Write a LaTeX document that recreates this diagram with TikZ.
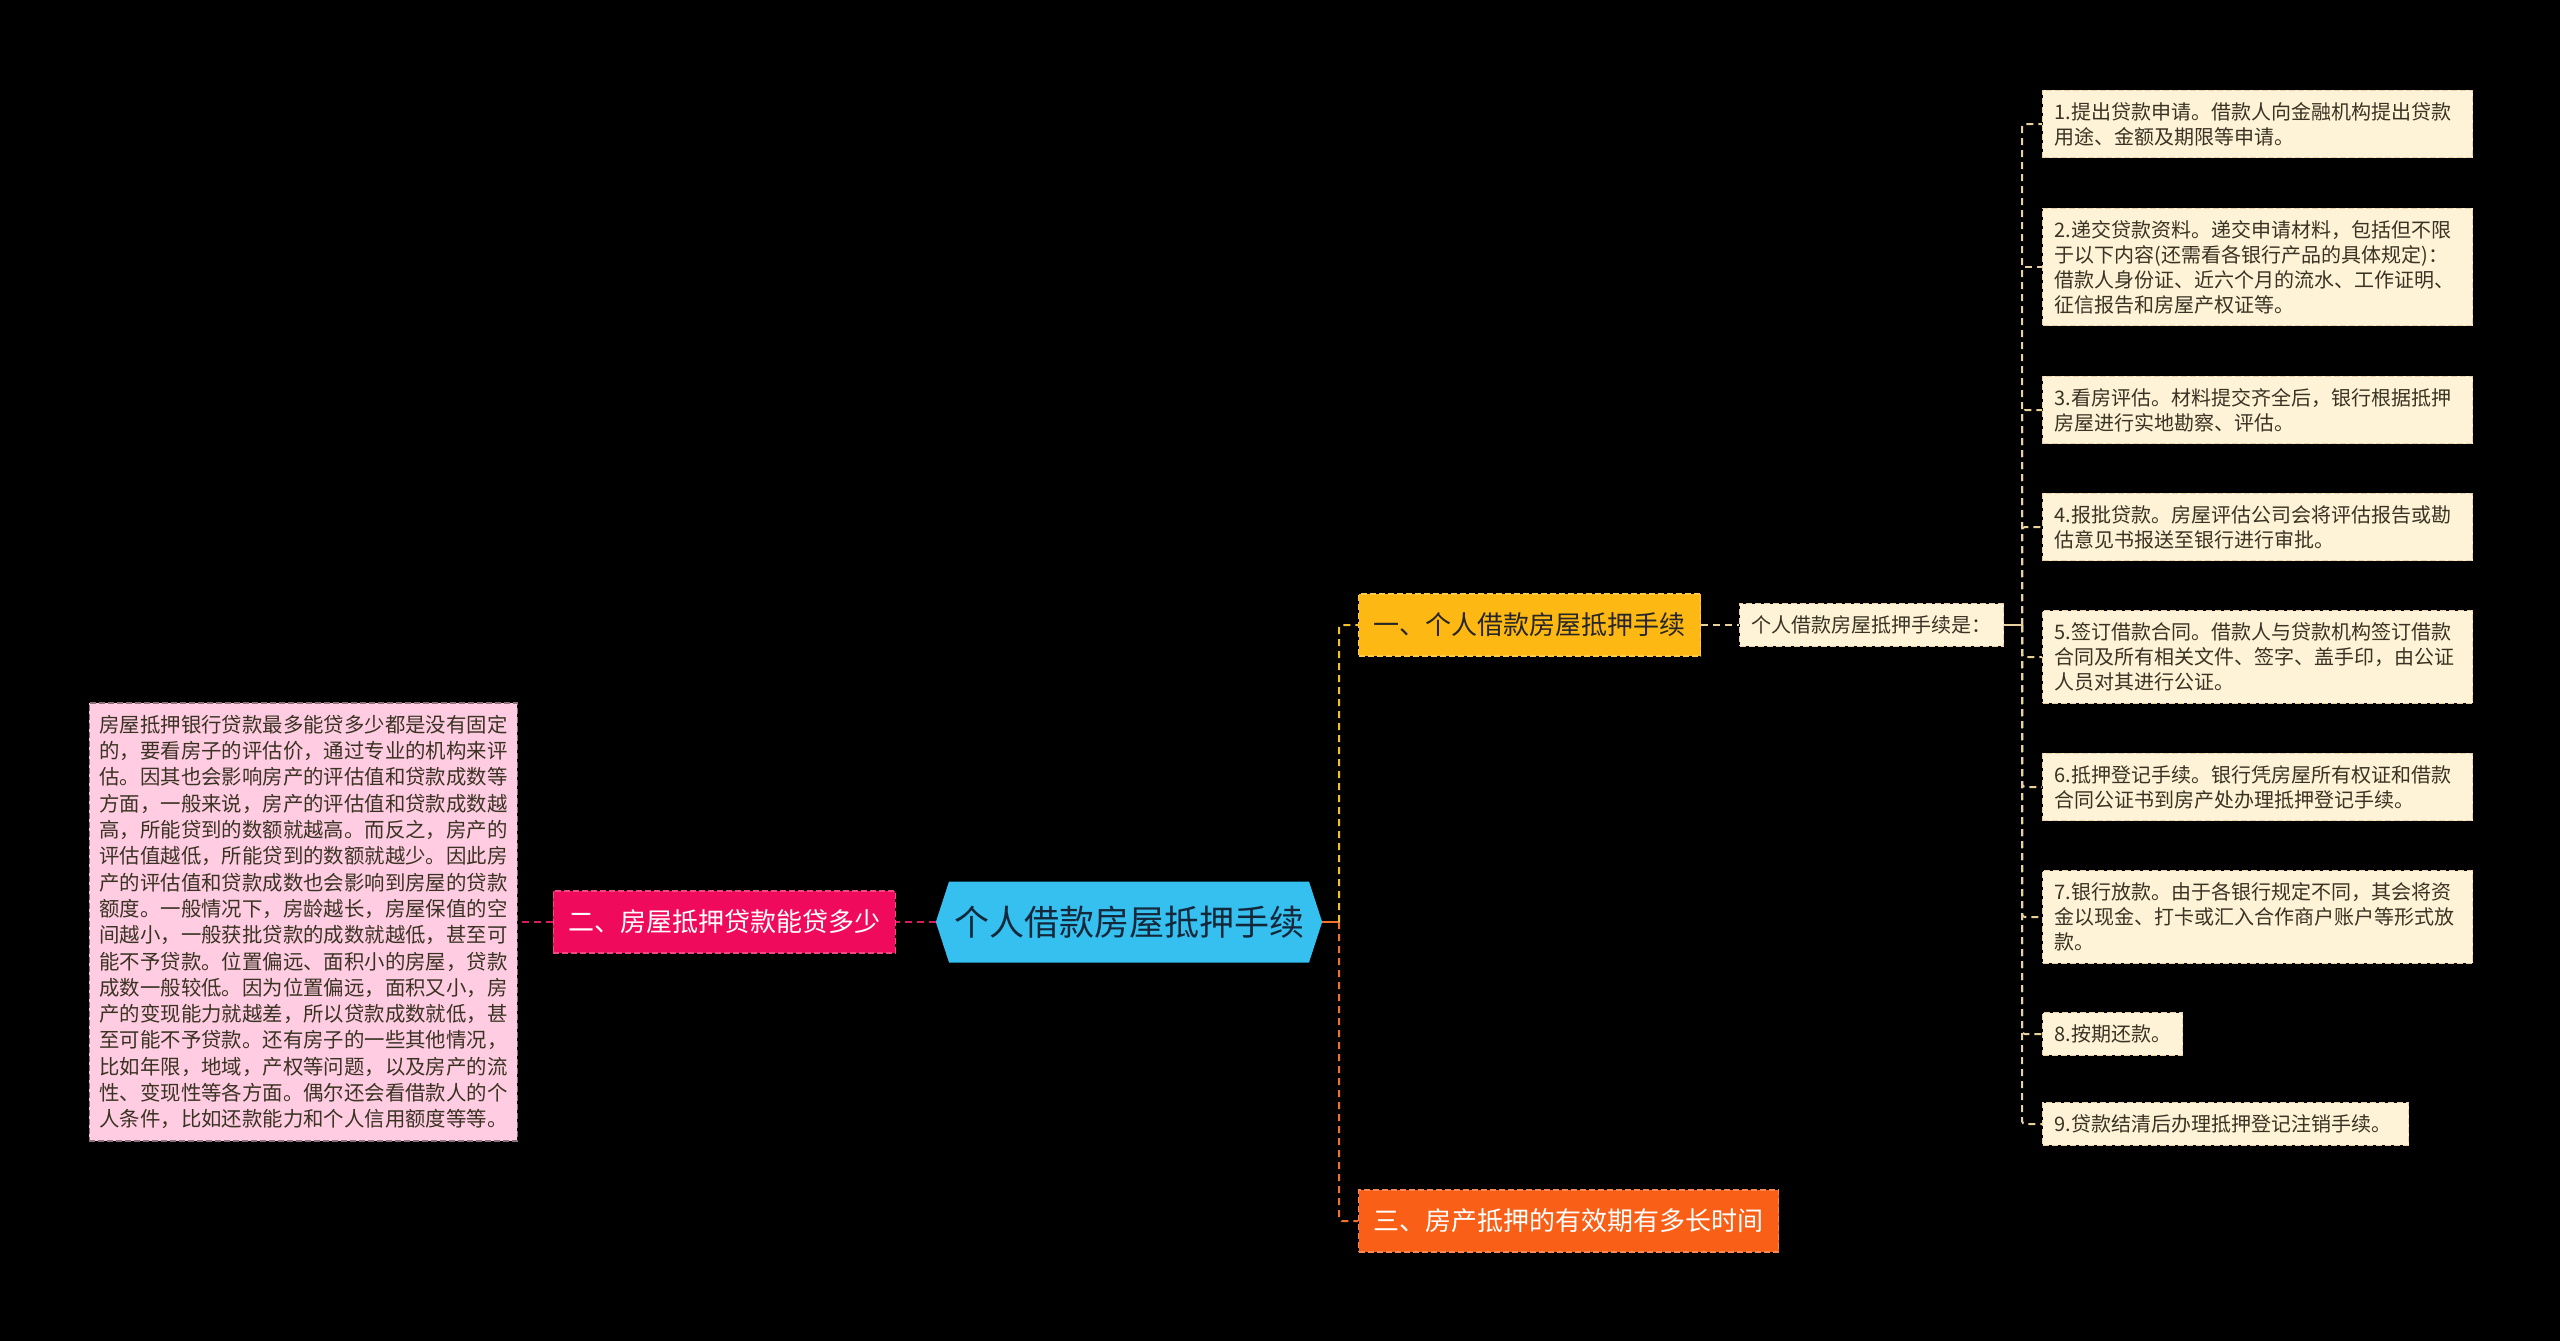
\documentclass[tikz,border=0pt]{standalone}
\usepackage{fontspec}
\setmainfont{Noto Sans CJK SC}
\usepackage{tikz}
\usetikzlibrary{shapes,shapes.symbols,arrows.meta,positioning,calc}
\definecolor{mmRoot}{HTML}{35C0F0}
\definecolor{mmRootText}{HTML}{13283A}
\definecolor{mmMagenta}{HTML}{F00A5C}
\definecolor{mmPink}{HTML}{FFCCE1}
\definecolor{mmAmber}{HTML}{FDB813}
\definecolor{mmOrange}{HTML}{FA5F17}
\definecolor{mmCream}{HTML}{FEF3D6}
\definecolor{mmInk}{HTML}{3A3324}
\definecolor{lkMagenta}{HTML}{D81B60}
\definecolor{lkAmber}{HTML}{F2C12E}
\definecolor{lkOrange}{HTML}{F0722E}
\definecolor{lkCream}{HTML}{E6D29A}
\tikzset{
    mmBoxBase/.style={
        rectangle,
        draw,
        dash pattern=on 6pt off 3pt,
        line width=1.2pt,
        inner xsep=12pt,
        inner ysep=12pt,
        align=left
    },
    % Root and branches
    rootHex/.style={
        signal, signal to=west and east, signal pointer angle=144,
        fill=mmRoot, draw=none, text=mmRootText,
        minimum height=81pt, inner xsep=5pt,
        font=\fontsize{35pt}{40pt}\selectfont
    },
    branchBox/.style={
        mmBoxBase, fill=#1, draw=#1!75!white,
        inner xsep=15pt, minimum height=62pt,
        font=\fontsize{26pt}{30pt}\selectfont
    },
    % Leaves
    noteBox/.style={mmBoxBase, fill=mmCream, draw=mmCream!70!brown, text=mmInk,
        font=\fontsize{20pt}{25pt}\selectfont},
    pinkBox/.style={mmBoxBase, fill=mmPink, draw=mmPink!55!black, text=mmInk,
        inner xsep=10pt, font=\fontsize{20.4pt}{26.3pt}\selectfont},
    % Links
    lkBase/.style={line width=2pt, dash pattern=on 7pt off 5pt, rounded corners=3pt}
}
\begin{document}
\begin{tikzpicture}[x=1pt, y=-1pt,
    lk/.style={lkBase, draw=#1}
]
\fill[black] (0,0) rectangle (2560,1341);
\useasboundingbox (0,0) rectangle (2560,1341);

% Root
\node[rootHex] (root) at (1129,922) {个人借款房屋抵押手续};

% Left branch
\node[branchBox=mmMagenta, text=white, anchor=east] (b2) at (896,922) {二、房屋抵押贷款能贷多少};
\node[pinkBox, anchor=east] (b2n) at (518,922) {房屋抵押银行贷款最多能贷多少都是没有固定\\
的，要看房子的评估价，通过专业的机构来评\\
估。因其也会影响房产的评估值和贷款成数等\\
方面，一般来说，房产的评估值和贷款成数越\\
高，所能贷到的数额就越高。而反之，房产的\\
评估值越低，所能贷到的数额就越少。因此房\\
产的评估值和贷款成数也会影响到房屋的贷款\\
额度。一般情况下，房龄越长，房屋保值的空\\
间越小，一般获批贷款的成数就越低，甚至可\\
能不予贷款。位置偏远、面积小的房屋，贷款\\
成数一般较低。因为位置偏远，面积又小，房\\
产的变现能力就越差，所以贷款成数就低，甚\\
至可能不予贷款。还有房子的一些其他情况，\\
比如年限，地域，产权等问题，以及房产的流\\
性、变现性等各方面。偶尔还会看借款人的个\\
人条件，比如还款能力和个人信用额度等等。};

% Right branches
\node[branchBox=mmAmber, text=black!85, anchor=west] (b1) at (1358,625) {一、个人借款房屋抵押手续};
\node[branchBox=mmOrange, text=white, anchor=west] (b3) at (1358,1221) {三、房产抵押的有效期有多长时间};
\node[noteBox, anchor=west] (b1n) at (1739,625) {个人借款房屋抵押手续是：};

% Steps
\foreach \i/\y/\w/\t in {
    1/124/406/{1.提出贷款申请。借款人向金融机构提出贷款\\用途、金额及期限等申请。},
    2/267/406/{2.递交贷款资料。递交申请材料，包括但不限\\于以下内容(还需看各银行产品的具体规定)：\\借款人身份证、近六个月的流水、工作证明、\\征信报告和房屋产权证等。},
    3/410/406/{3.看房评估。材料提交齐全后，银行根据抵押\\房屋进行实地勘察、评估。},
    4/527/406/{4.报批贷款。房屋评估公司会将评估报告或勘\\估意见书报送至银行进行审批。},
    5/657/406/{5.签订借款合同。借款人与贷款机构签订借款\\合同及所有相关文件、签字、盖手印，由公证\\人员对其进行公证。},
    6/787/406/{6.抵押登记手续。银行凭房屋所有权证和借款\\合同公证书到房产处办理抵押登记手续。},
    7/917/406/{7.银行放款。由于各银行规定不同，其会将资\\金以现金、打卡或汇入合作商户账户等形式放\\款。},
    8/1034/116/{8.按期还款。},
    9/1124/342/{9.贷款结清后办理抵押登记注销手续。}} {
    \node[noteBox, anchor=west, text width=\w pt] (s\i) at (2042,\y) {\t};
}

% Links
\draw[lk=lkMagenta] (root.west) -- (b2.east);
\draw[lk=lkMagenta] (b2.west) -- (b2n.east);
\coordinate (hubL) at (1339,922);
\draw[line width=2pt, lkOrange] (root.east) -- (hubL);
\draw[lk=lkAmber] (hubL) |- (b1.west);
\draw[lk=lkOrange] (hubL) |- (b3.west);
\draw[lk=lkCream] (b1.east) -- (b1n.west);
\coordinate (hubR) at (2022,625);
\draw[lk=lkCream, solid] (b1n.east) -- (hubR);
\foreach \i in {1,...,9} {
    \draw[lk=lkCream] (hubR) |- (s\i.west);
}
\end{tikzpicture}
\end{document}
